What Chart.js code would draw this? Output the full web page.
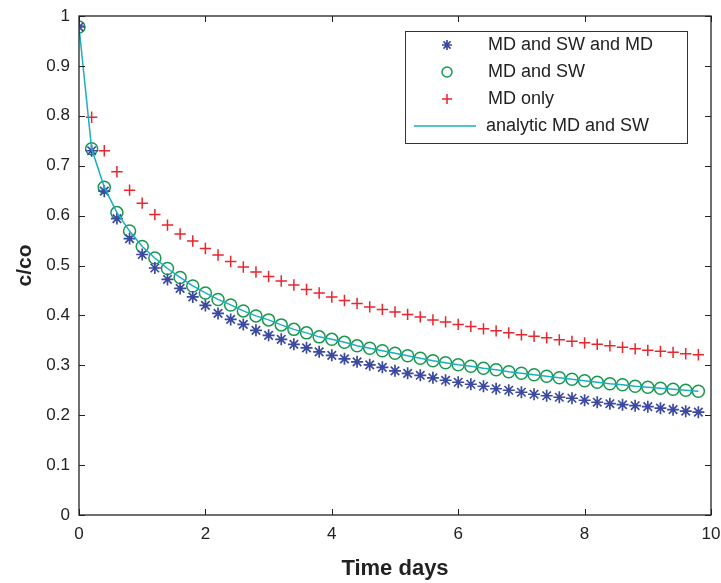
<!DOCTYPE html>
<html>
<head>
<meta charset="utf-8">
<script src="https://cdn.jsdelivr.net/npm/chart.js@4/dist/chart.umd.min.js"></script>
<style>
  html, body { margin: 0; padding: 0; background: #fff; }
  #wrap { width: 721px; height: 583px; }
</style>
</head>
<body>
<div id="wrap"><canvas id="chart1"></canvas></div>
<script>
const timeDays = [0, 0.2, 0.4, 0.6, 0.8, 1.0, 1.2, 1.4, 1.6, 1.8,
    2.0, 2.2, 2.4, 2.6, 2.8, 3.0, 3.2, 3.4, 3.6, 3.8,
    4.0, 4.2, 4.4, 4.6, 4.8, 5.0, 5.2, 5.4, 5.6, 5.8,
    6.0, 6.2, 6.4, 6.6, 6.8, 7.0, 7.2, 7.4, 7.6, 7.8,
    8.0, 8.2, 8.4, 8.6, 8.8, 9.0, 9.2, 9.4, 9.6, 9.8]

const mdSwMd = [0.978, 0.730, 0.649, 0.594, 0.554, 0.522, 0.495, 0.472, 0.454, 0.437,
    0.420, 0.404, 0.392, 0.382, 0.370, 0.360, 0.352, 0.342, 0.335, 0.327,
    0.320, 0.313, 0.307, 0.301, 0.296, 0.289, 0.284, 0.280, 0.275, 0.270,
    0.266, 0.262, 0.258, 0.253, 0.250, 0.246, 0.242, 0.239, 0.236, 0.234,
    0.230, 0.226, 0.223, 0.221, 0.219, 0.217, 0.214, 0.211, 0.208, 0.206]

const mdSw = [0.978, 0.734, 0.657, 0.606, 0.569, 0.538, 0.515, 0.494, 0.476, 0.459,
    0.445, 0.432, 0.421, 0.409, 0.399, 0.391, 0.381, 0.372, 0.365, 0.357,
    0.352, 0.346, 0.339, 0.334, 0.329, 0.324, 0.319, 0.314, 0.309, 0.305,
    0.301, 0.298, 0.294, 0.291, 0.287, 0.284, 0.281, 0.278, 0.275, 0.272,
    0.269, 0.266, 0.263, 0.261, 0.258, 0.256, 0.254, 0.252, 0.250, 0.248]

const mdOnly = [0.980, 0.797, 0.730, 0.688, 0.651, 0.625, 0.602, 0.581, 0.563, 0.549,
    0.534, 0.521, 0.508, 0.497, 0.487, 0.478, 0.469, 0.461, 0.452, 0.445,
    0.437, 0.430, 0.424, 0.417, 0.412, 0.407, 0.402, 0.397, 0.391, 0.387,
    0.382, 0.378, 0.373, 0.369, 0.365, 0.361, 0.358, 0.355, 0.351, 0.348,
    0.345, 0.342, 0.339, 0.336, 0.333, 0.330, 0.328, 0.326, 0.323, 0.321]

// analytic curve runs through the circle markers
const analyticMdSw = mdSw

const seriesNames = ['MD and SW and MD', 'MD and SW', 'MD only', 'analytic MD and SW']
const xTicks = [0, 2, 4, 6, 8, 10]
const yTicks = [0, 0.1, 0.2, 0.3, 0.4, 0.5, 0.6, 0.7, 0.8, 0.9, 1]

const FONT = '"Liberation Sans", Arial, Helvetica, sans-serif'
const INK = '#222'

const pts = arr => arr.map((v, i) => ({ x: timeDays[i], y: v }))

const data = {
    datasets: [
        {
            label: seriesNames[3],
            data: pts(analyticMdSw),
            showLine: true,
            borderColor: '#1aaebf',
            borderWidth: 1.5,
            pointRadius: 0,
            tension: 0
        },
        {
            label: seriesNames[0],
            data: pts(mdSwMd),
            showLine: false,
            pointStyle: 'star',
            pointRadius: 6,
            borderColor: '#3b4aa0',
            borderWidth: 1.7
        },
        {
            label: seriesNames[1],
            data: pts(mdSw),
            showLine: false,
            pointStyle: 'circle',
            pointRadius: 6,
            borderColor: '#16994f',
            backgroundColor: 'rgba(0,0,0,0)',
            borderWidth: 1.5
        },
        {
            label: seriesNames[2],
            data: pts(mdOnly),
            showLine: false,
            pointStyle: 'cross',
            pointRadius: 5.7,
            borderColor: '#e8262d',
            borderWidth: 1.5
        }
    ]
}

// box around the axes, with matlab style inward ticks
const framePlugin = {
    id: 'frame',
    afterDatasetsDraw(chart) {
        const { ctx, chartArea: a, scales } = chart
        ctx.save()
        ctx.strokeStyle = INK
        ctx.lineWidth = 1.3
        ctx.strokeRect(a.left, a.top, a.right - a.left, a.bottom - a.top)
        ctx.lineWidth = 1
        const len = 6
        ctx.beginPath()
        xTicks.forEach(v => {
            const px = Math.round(scales.x.getPixelForValue(v)) + 0.5
            ctx.moveTo(px, a.bottom); ctx.lineTo(px, a.bottom - len)
            ctx.moveTo(px, a.top); ctx.lineTo(px, a.top + len)
        })
        yTicks.forEach(v => {
            const py = Math.round(scales.y.getPixelForValue(v)) + 0.5
            ctx.moveTo(a.left, py); ctx.lineTo(a.left + len, py)
            ctx.moveTo(a.right, py); ctx.lineTo(a.right - len, py)
        })
        ctx.stroke()
        ctx.restore()
    }
}

const legendPlugin = {
    id: 'boxLegend',
    afterDraw(chart) {
        const { ctx } = chart
        const w = 282, h = 112
        const left = 405
        const top = 31
        ctx.save()
        ctx.fillStyle = '#fff'
        ctx.fillRect(left, top, w, h)
        ctx.strokeStyle = '#333'
        ctx.lineWidth = 1
        ctx.strokeRect(left + 0.5, top + 0.5, w, h)
        ctx.font = '18px ' + FONT
        ctx.fillStyle = INK
        ctx.textBaseline = 'middle'
        const order = [1, 2, 3]
        order.forEach((di, row) => {
            const ds = chart.data.datasets[di]
            const cy = top + 14 + row * 27
            ctx.strokeStyle = ds.borderColor
            ctx.fillStyle = 'rgba(0,0,0,0)'
            ctx.lineWidth = ds.borderWidth
            Chart.helpers.drawPoint(ctx, {
                pointStyle: ds.pointStyle,
                radius: 5,
                rotation: 0,
                borderWidth: ds.borderWidth
            }, left + 42, cy)
            ctx.fillStyle = INK
            ctx.fillText(ds.label, left + 83, cy)
        })
        const line = chart.data.datasets[0]
        const cy = top + 14 + 3 * 27
        ctx.strokeStyle = line.borderColor
        ctx.lineWidth = line.borderWidth
        ctx.beginPath()
        ctx.moveTo(left + 9, cy); ctx.lineTo(left + 71, cy)
        ctx.stroke()
        ctx.fillStyle = INK
        ctx.fillText(line.label, left + 81, cy)
        ctx.restore()
    }
}

const options = {
    responsive: true,
    maintainAspectRatio: false,
    animation: false,
    layout: { padding: { top: 16, right: 10, left: 0, bottom: 0 } },
    plugins: {
        legend: { display: false },
        tooltip: { enabled: false }
    },
    scales: {
        x: {
            type: 'linear',
            min: 0,
            max: 10,
            afterBuildTicks: s => { s.ticks = xTicks.map(v => ({ value: v })) },
            afterFit: s => { s.height = 68; s.paddingRight = 0; s.paddingLeft = 0 },
            grid: { display: false, drawTicks: false, tickLength: 0 },
            border: { display: false },
            ticks: { color: INK, font: { family: FONT, size: 17 }, padding: 9, maxRotation: 0 },
            title: {
                display: true,
                text: 'Time days',
                color: INK,
                font: { family: FONT, size: 22, weight: 'bold' },
                padding: { top: 4, bottom: 1 }
            }
        },
        y: {
            min: 0,
            max: 1,
            afterBuildTicks: s => { s.ticks = yTicks.map(v => ({ value: v })) },
            afterFit: s => { s.width = 79; s.paddingTop = 0; s.paddingBottom = 0 },
            grid: { display: false, drawTicks: false, tickLength: 0 },
            border: { display: false },
            ticks: {
                color: INK,
                font: { family: FONT, size: 17 },
                padding: 9,
                callback: v => String(Math.round(v * 10) / 10)
            },
            title: {
                display: true,
                text: 'c/co',
                color: INK,
                font: { family: FONT, size: 21, weight: 'bold' },
                padding: { bottom: 0, top: 13 }
            }
        }
    }
}

new Chart('chart1', { type: 'scatter', data, options, plugins: [framePlugin, legendPlugin] })
</script>
</body>
</html>
